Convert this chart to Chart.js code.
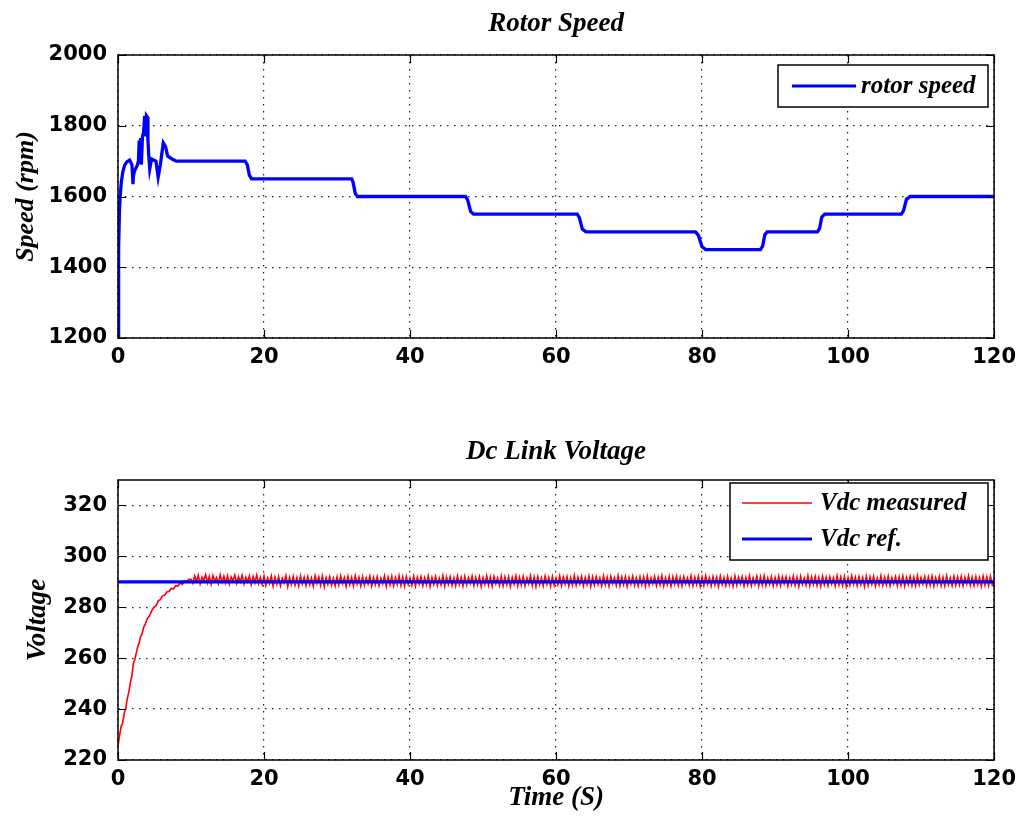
<!DOCTYPE html>
<html><head><meta charset="utf-8">
<script src="https://cdn.jsdelivr.net/npm/chart.js@4.4.1/dist/chart.umd.min.js"></script>
<style>
html,body{margin:0;padding:0;background:#fff;overflow:hidden;}
#top{position:absolute;left:0;top:0;width:1023px;height:400px;}
#bot{position:absolute;left:0;top:400px;width:1023px;height:416px;}
</style></head><body>
<div id="top"><canvas id="c1"></canvas></div>
<div id="bot"><canvas id="c2"></canvas></div>
<script>
// ---------- data ----------
const xTicks = [0, 20, 40, 60, 80, 100, 120];
const speedTicks = [1200, 1400, 1600, 1800, 2000];
const voltTicks = [220, 240, 260, 280, 300, 320];

const speedTime = [0,0.05,0.12,0.2,0.3,0.45,0.65,0.9,1.2,1.6,
  1.9,2.0,2.05,2.1,2.25,2.6,2.8,2.9,3.0,3.1,
  3.2,3.35,3.5,3.65,3.8,3.9,4.0,4.1,4.2,4.35,
  4.6,5.0,5.2,5.5,5.8,6.2,6.5,6.8,7.4,8.0,
  17.4,17.7,18.0,18.3,
  32.0,32.2,32.5,32.8,
  47.6,47.9,48.3,48.7,
  62.9,63.2,63.6,64.1,
  79.1,79.5,80.0,80.5,
  88.0,88.3,88.6,88.9,
  95.8,96.1,96.4,96.8,
  107.3,107.6,108.0,108.5,
  120];
const speedRpm = [1200,1450,1455,1560,1600,1640,1668,1688,1698,1703,
  1690,1660,1635,1655,1672,1686,1700,1758,1700,1765,
  1690,1770,1780,1828,1770,1828,1825,1760,1720,1678,
  1706,1702,1700,1655,1690,1752,1742,1714,1706,1700,
  1700,1690,1660,1650,
  1650,1640,1608,1600,
  1600,1590,1558,1550,
  1550,1540,1508,1500,
  1500,1490,1458,1450,
  1450,1460,1492,1500,
  1500,1510,1542,1550,
  1550,1560,1592,1600,
  1600];

const vdcRiseTime = [0,0.15,0.3,0.45,0.6,0.75,0.9,1.05,1.2,1.35,1.5,
  1.7,1.9,2.1,2.3,2.5,2.7,2.9,3.1,3.3,3.5,3.75,4.0,
  4.3,4.6,4.9,5.2,5.5,5.8,6.1,6.4,6.7,7.0,7.3,7.6,7.9,8.2,8.5,8.8,9.1,9.4,9.7];
const vdcRiseValue = [225.5,228.5,231,233.5,234,236.5,239,240,243,245,247,
  250.5,253,258,259.5,262,264.5,266,268.5,269.5,272,273.5,275.5,
  276.5,278.5,280,280.5,282.5,283,284.5,284.8,286,286.3,287.5,287.2,288.5,288.3,289.5,289,290.3,290,291];

// measured Vdc after the transient, one sample every 0.25 s from t = 10 s
const vdcNoiseStart = 10;
const vdcNoiseStep = 0.25;
const vdcNoiseValue = [
  291.0,289.4,292.3,290.1,292.6,289.2,291.8,290.4,292.8,289.6,292.1,289.0,292.5,290.2,291.7,289.3,292.7,289.8,292.2,289.5,
  292.4,289.1,291.9,290.3,292.6,289.4,292.0,289.9,292.5,289.2,291.8,290.0,292.3,288.9,292.1,289.6,292.6,289.3,291.7,289.0,
  292.2,288.6,291.5,289.4,292.3,288.3,291.9,289.1,292.0,288.5,291.4,289.6,292.4,288.2,291.7,289.0,292.1,288.7,291.6,288.4,
  292.3,289.2,291.8,288.5,292.0,288.9,291.5,288.3,292.4,289.4,291.9,288.6,292.2,288.1,291.6,289.0,292.0,288.7,291.4,288.4,
  291.9,288.8,292.3,289.3,291.6,288.2,292.1,288.9,291.7,288.5,292.4,289.1,291.8,288.4,292.0,288.7,291.5,289.2,292.2,288.3,
  291.7,288.9,292.0,288.5,291.4,289.3,292.3,288.2,291.8,288.8,292.1,288.4,291.6,289.0,292.4,288.6,291.9,288.3,292.0,289.1,
  291.5,288.7,292.2,288.4,291.8,289.2,292.0,288.5,291.6,288.9,292.3,288.2,291.7,289.0,292.1,288.6,291.4,288.8,292.4,288.3,
  291.9,289.1,292.0,288.6,291.5,288.4,292.3,289.0,291.8,288.3,292.1,288.8,291.6,289.3,292.2,288.5,291.7,288.9,292.0,288.2,
  291.6,289.0,292.4,288.7,291.8,288.3,292.1,289.2,291.5,288.6,292.2,288.4,291.9,288.9,292.0,288.2,291.7,289.1,292.3,288.5,
  291.8,288.8,292.1,288.4,291.6,289.3,292.4,288.6,291.9,288.2,292.0,288.9,291.5,288.5,292.2,289.0,291.7,288.3,292.1,288.7,
  291.5,288.9,292.3,288.5,291.9,289.1,292.0,288.3,291.6,288.8,292.4,288.6,291.8,289.2,292.1,288.4,291.7,288.9,292.2,288.2,
  291.9,288.7,292.0,289.0,291.5,288.4,292.3,288.8,291.8,288.3,292.1,289.3,291.6,288.6,292.4,288.5,291.9,288.9,292.0,288.2,
  291.7,289.1,292.2,288.6,291.6,288.4,292.0,288.9,291.9,288.3,292.3,288.7,291.5,289.2,292.1,288.5,291.8,288.8,292.4,288.4,
  291.6,288.9,292.1,288.3,291.9,289.0,292.2,288.6,291.7,288.4,292.0,289.2,291.5,288.7,292.3,288.5,291.8,288.9,292.1,288.3,
  291.9,288.6,292.4,289.1,291.6,288.4,292.0,288.8,291.8,288.2,292.2,289.0,291.7,288.5,292.1,288.9,291.5,288.3,292.3,288.7,
  291.8,289.2,292.0,288.4,291.7,288.8,292.3,288.5,291.6,289.0,292.1,288.3,291.9,288.7,292.4,288.6,291.5,289.1,292.0,288.4,
  291.7,288.8,292.2,288.5,291.9,289.3,292.0,288.4,291.6,288.9,292.3,288.6,291.8,288.2,292.1,289.0,291.5,288.7,292.4,288.5,
  291.9,289.0,292.1,288.6,291.7,288.3,292.2,288.9,291.8,288.5,292.0,289.2,291.6,288.4,292.3,288.8,291.9,288.6,292.1,288.3,
  291.6,288.7,292.4,289.1,291.8,288.5,292.0,288.9,291.7,288.2,292.2,288.6,291.9,289.0,292.1,288.4,291.5,288.8,292.3,288.6,
  291.8,288.9,292.2,288.4,291.6,289.2,292.0,288.5,291.9,288.7,292.3,288.3,291.7,289.0,292.1,288.6,291.8,288.4,292.4,288.8,
  291.7,289.1,292.0,288.5,291.9,288.7,292.2,288.3,291.6,289.0,292.1,288.6,291.8,288.4,292.3,288.9,291.5,288.5,292.2,288.7,
  291.9,288.8,292.1,288.4,291.7,289.2,292.3,288.6,291.8,288.5,292.0,288.9,291.6,288.3,292.2,288.7,291.9,288.5,292.1,288.8,
  290.2];

const vdcRefTime = [0, 120];
const vdcRefValue = [290, 290];

// ---------- build points ----------
const speedPts = speedTime.map((t, i) => ({x: t, y: speedRpm[i]}));
const vdcPts = vdcRiseTime.map((t, i) => ({x: t, y: vdcRiseValue[i]}))
  .concat(vdcNoiseValue.map((v, i) => ({x: vdcNoiseStart + i * vdcNoiseStep, y: v})));
const refPts = vdcRefTime.map((t, i) => ({x: t, y: vdcRefValue[i]}));

// ---------- styling ----------
const SERIF = "'Liberation Serif','Times New Roman',serif";
const SANS = "'DejaVu Sans',sans-serif";

const framePlugin = {
  id: 'frame',
  afterDatasetsDraw(chart) {
    const {ctx, chartArea: {left, right, top, bottom}, scales: {x, y}} = chart;
    ctx.save();
    ctx.strokeStyle = '#000';
    ctx.lineWidth = 1.5;
    ctx.setLineDash([]);
    ctx.strokeRect(left, top, right - left, bottom - top);
    const L = 8;
    ctx.beginPath();
    x.ticks.forEach(t => {
      const px = Math.round(x.getPixelForValue(t.value)) + 0.5;
      ctx.moveTo(px, bottom); ctx.lineTo(px, bottom - L);
      ctx.moveTo(px, top); ctx.lineTo(px, top + L);
    });
    y.ticks.forEach(t => {
      const py = Math.round(y.getPixelForValue(t.value)) + 0.5;
      ctx.moveTo(left, py); ctx.lineTo(left + L, py);
      ctx.moveTo(right, py); ctx.lineTo(right - L, py);
    });
    ctx.lineWidth = 1.2;
    ctx.stroke();
    ctx.restore();
  }
};

const boxLegend = {
  id: 'boxLegend',
  afterDraw(chart, args, opts) {
    if (!opts.box) return;
    const ctx = chart.ctx;
    const [x1, y1, x2, y2] = opts.box;
    ctx.save();
    ctx.fillStyle = '#fff';
    ctx.fillRect(x1, y1, x2 - x1, y2 - y1);
    ctx.strokeStyle = '#000';
    ctx.lineWidth = 1.5;
    ctx.strokeRect(x1, y1, x2 - x1, y2 - y1);
    chart.data.datasets.forEach((ds, i) => {
      const yy = opts.rows[i];
      ctx.strokeStyle = ds.borderColor;
      ctx.lineWidth = opts.lineWidths[i];
      ctx.beginPath();
      ctx.moveTo(opts.lineX[0], yy); ctx.lineTo(opts.lineX[1], yy);
      ctx.stroke();
      ctx.fillStyle = '#000';
      ctx.font = opts.font;
      ctx.textBaseline = 'middle';
      ctx.textAlign = 'left';
      ctx.fillText(ds.label, opts.textX, yy + 1);
    });
    ctx.restore();
  }
};

const plainNum = v => String(v);

function xScale(height, titleText) {
  return {
    type: 'linear', min: 0, max: 120,
    afterBuildTicks: s => { s.ticks = xTicks.map(v => ({value: v})); },
    afterFit: s => { s.height = height; },
    grid: {color: '#222', lineWidth: 1.2, drawTicks: false, borderDash: [1.5, 5.5]},
    border: {display: false, dash: [1.5, 5.5]},
    ticks: {padding: 7, color: '#000', autoSkip: false, maxRotation: 0, callback: plainNum,
            font: {family: SANS, weight: 'bold', size: 21}},
    title: titleText ? {display: true, text: titleText, color: '#000',
            font: {family: SERIF, style: 'italic', weight: 'bold', size: 27},
            padding: {top: 0, bottom: 2}} : {display: false}
  };
}
function yScale(min, max, tickList, titleText, titlePad, titleSize) {
  return {
    type: 'linear', min: min, max: max,
    afterBuildTicks: s => { s.ticks = tickList.map(v => ({value: v})); },
    afterFit: s => { s.width = 118; },
    grid: {color: '#222', lineWidth: 1.2, drawTicks: false, borderDash: [1.5, 5.5]},
    border: {display: false, dash: [1.5, 5.5]},
    ticks: {padding: 11, color: '#000', autoSkip: false, callback: plainNum,
            font: {family: SANS, weight: 'bold', size: 21}},
    title: {display: true, text: titleText, color: '#000',
            font: {family: SERIF, style: 'italic', weight: 'bold', size: titleSize},
            padding: {top: titlePad, bottom: 0}}
  };
}

Chart.defaults.animation = false;

new Chart(document.getElementById('c1'), {
  type: 'line',
  data: {datasets: [{
    label: 'rotor speed', data: speedPts,
    borderColor: '#0000ff', borderWidth: 3.3, pointRadius: 0, tension: 0, fill: false
  }]},
  options: {
    responsive: true, maintainAspectRatio: false,
    layout: {padding: {left: 0, right: 27, top: 0, bottom: 0}},
    scales: {
      x: xScale(62, null),
      y: yScale(1200, 2000, speedTicks, 'Speed (rpm)', 11, 26)
    },
    plugins: {
      legend: {display: false},
      tooltip: {enabled: false},
      title: {display: true, text: 'Rotor Speed', fullSize: false, color: '#000',
              font: {family: SERIF, style: 'italic', weight: 'bold', size: 27, lineHeight: 1.2},
              padding: {top: 8, bottom: 14.6}},
      boxLegend: {box: [778, 65, 988, 107], rows: [86], lineX: [792, 856], lineWidths: [3],
                  textX: 861, font: "italic bold 25px 'Liberation Serif','Times New Roman',serif"}
    }
  },
  plugins: [framePlugin, boxLegend]
});

new Chart(document.getElementById('c2'), {
  type: 'line',
  data: {datasets: [{
    label: 'Vdc measured', data: vdcPts, order: 2,
    borderColor: '#ff0000', borderWidth: 1.6, pointRadius: 0, tension: 0, fill: false
  }, {
    label: 'Vdc ref.', data: refPts, order: 1,
    borderColor: '#0000ff', borderWidth: 3.2, pointRadius: 0, tension: 0, fill: false
  }]},
  options: {
    responsive: true, maintainAspectRatio: false,
    layout: {padding: {left: 0, right: 27, top: 0, bottom: 0}},
    scales: {
      x: xScale(56, 'Time (S)'),
      y: yScale(220, 330, voltTicks, 'Voltage', 22, 27)
    },
    plugins: {
      legend: {display: false},
      tooltip: {enabled: false},
      title: {display: true, text: 'Dc Link Voltage', fullSize: false, color: '#000',
              font: {family: SERIF, style: 'italic', weight: 'bold', size: 27, lineHeight: 1.2},
              padding: {top: 36, bottom: 11.6}},
      boxLegend: {box: [730, 83, 988, 160], rows: [103, 139], lineX: [742, 812], lineWidths: [1.5, 3],
                  textX: 820, font: "italic bold 25px 'Liberation Serif','Times New Roman',serif"}
    }
  },
  plugins: [framePlugin, boxLegend]
});
</script>
</body></html>
